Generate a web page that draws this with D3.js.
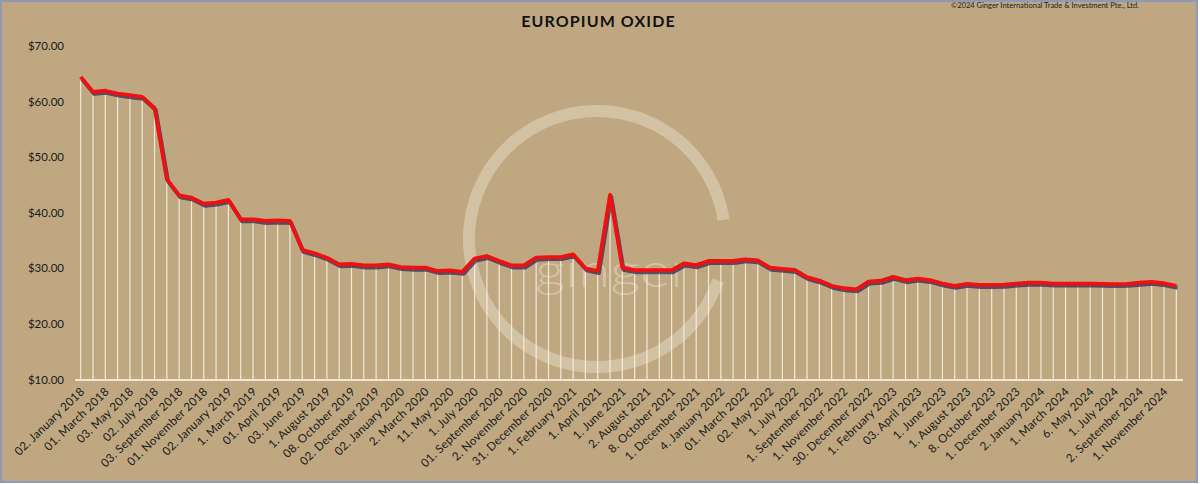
<!DOCTYPE html>
<html>
<head>
<meta charset="utf-8">
<script src="https://cdn.jsdelivr.net/npm/d3@7"></script>
<style>
  html, body { margin: 0; padding: 0; background: #ffffff; }
  svg { display: block; }
  text { font-family: Lato, "Open Sans", "DejaVu Sans", sans-serif; }
</style>
</head>
<body>
<svg id="chart" width="1200" height="484"></svg>
<script>
// ---- data ----
const title = "EUROPIUM OXIDE";
const copyright = "©2024 Ginger International Trade & Investment Pte., Ltd.";

// price observations (USD/kg), in order
const prices = [
  64.4, 61.7, 61.9, 61.4, 61.1, 60.8, 58.8, 46.0, 43.1, 42.7,
  41.6, 41.8, 42.3, 38.8, 38.8, 38.5, 38.6, 38.5, 33.3, 32.7,
  31.9, 30.7, 30.8, 30.5, 30.5, 30.7, 30.2, 30.1, 30.1, 29.5,
  29.6, 29.35, 31.75, 32.2, 31.3, 30.5, 30.5, 31.9, 32.0, 32.0,
  32.5, 30.0, 29.5, 43.2, 30.1, 29.65, 29.65, 29.65, 29.65, 30.85,
  30.55, 31.3, 31.3, 31.3, 31.6, 31.4, 30.1, 29.9, 29.7, 28.4,
  27.8, 26.85, 26.4, 26.2, 27.6, 27.75, 28.45, 27.85, 28.15, 27.85,
  27.25, 26.85, 27.2, 27.0, 27.0, 27.05, 27.25, 27.4, 27.4, 27.25,
  27.25, 27.25, 27.25, 27.2, 27.15, 27.2, 27.4, 27.55, 27.3, 26.85
];

// labels shown on every second observation
const tickLabels = [
  "02. January 2018", "01. March 2018", "03. May 2018", "02. July 2018",
  "03. September 2018", "01. November 2018", "02. January 2019", "1. March 2019",
  "01. April 2019", "03. June 2019", "1. August 2019", "08. October 2019",
  "02. December 2019", "02. January 2020", "2. March 2020", "11. May 2020",
  "1. July 2020", "01. September 2020", "2. November 2020", "31. December 2020",
  "1. February 2021", "1. April 2021", "1. June 2021", "2. August 2021",
  "8. October 2021", "1. December 2021", "4. January 2022", "01. March 2022",
  "02. May 2022", "1. July 2022", "1. September 2022", "1. November 2022",
  "30. December 2022", "1. February 2023", "03. April 2023", "1. June 2023",
  "1. August 2023", "8. October 2023", "1. December 2023", "2. January 2024",
  "1. March 2024", "6. May 2024", "1. July 2024", "2. September 2024",
  "1. November 2024"
];
const labelEvery = 2;

const yTicks = [10, 20, 30, 40, 50, 60, 70];

// ---- drawing ----
const W = 1200, H = 484;
const svg = d3.select("#chart");

svg.append("rect").attr("x", 0).attr("y", 0).attr("width", W).attr("height", H).attr("fill", "#ffffff");
svg.append("rect")
  .attr("x", 1).attr("y", 1).attr("width", 1196).attr("height", 481)
  .attr("fill", "#bfa881").attr("stroke", "#8d9ab8").attr("stroke-width", 2);

const idx = d3.range(prices.length);
const x = d3.scalePoint().domain(idx).range([74.5, 1182.5]).padding(0.5);
const y = d3.scaleLinear().domain([10, 70]).range([379.5, 45.7]);

// watermark logo
const wm = svg.append("g").attr("class", "watermark");
const cx = 597, cy = 239, r = 128;
wm.append("path")
  .attr("transform", `translate(${cx},${cy})`)
  .attr("d", d3.arc().innerRadius(r - 6).outerRadius(r + 6)
    .startAngle(Math.PI / 2 + 0.33).endAngle(Math.PI / 2 - 0.15 + 2 * Math.PI)())
  .attr("fill", "rgba(240,232,215,0.4)");
wm.append("text")
  .attr("x", 535).attr("y", 287)
  .attr("textLength", 156).attr("lengthAdjust", "spacingAndGlyphs")
  .attr("font-family", "'Open Sans', Lato, sans-serif")
  .attr("font-size", 47).attr("font-weight", 300)
  .attr("fill", "rgba(240,232,215,0.4)")
  .text("ginger");

// title & copyright
svg.append("text")
  .attr("x", 598.5).attr("y", 26.5)
  .attr("text-anchor", "middle")
  .attr("font-size", 16).attr("font-weight", 700)
  .attr("letter-spacing", 1.1)
  .attr("fill", "#111")
  .text(title);
svg.append("text")
  .attr("x", 951).attr("y", 8)
  .attr("font-size", 7.6)
  .attr("textLength", 188).attr("lengthAdjust", "spacingAndGlyphs")
  .attr("fill", "#222")
  .text(copyright);

// drop lines
svg.append("g").selectAll("line")
  .data(idx).join("line")
  .attr("x1", i => x(i)).attr("x2", i => x(i))
  .attr("y1", i => y(prices[i])).attr("y2", y(10))
  .attr("stroke", "rgba(250,243,230,0.85)").attr("stroke-width", 1.2);

// y axis
const yAxis = svg.append("g")
  .attr("transform", "translate(64,0)")
  .call(d3.axisLeft(y).tickValues(yTicks).tickFormat(d3.format("$.2f")).tickSize(0).tickPadding(0));
yAxis.select(".domain").remove();
yAxis.selectAll("text")
  .attr("font-family", "Lato, 'Open Sans', sans-serif")
  .attr("font-size", 11.5).attr("fill", "#1a1a1a");

// x axis
const xAxis = svg.append("g")
  .attr("transform", `translate(0,${y(10)})`)
  .call(d3.axisBottom(x)
    .tickValues(idx.filter(i => i % labelEvery === 0))
    .tickFormat(i => tickLabels[i / labelEvery])
    .tickSize(0).tickSizeOuter(0));
xAxis.select(".domain").attr("stroke", "#f3e6cf").attr("stroke-width", 2.2);
xAxis.selectAll(".tick text")
  .attr("font-family", "Lato, 'Open Sans', sans-serif")
  .attr("font-size", 11.6).attr("fill", "#1a1a1a")
  .attr("letter-spacing", 0.25)
  .attr("text-anchor", "end")
  .attr("y", 0).attr("dy", 0)
  .attr("transform", "translate(4,13) rotate(-44)");

// price line with shadow
const line = d3.line().x(i => x(i)).y(i => y(prices[i]));
svg.append("path")
  .datum(idx)
  .attr("d", line)
  .attr("transform", "translate(1.2,2)")
  .attr("fill", "none")
  .attr("stroke", "rgba(50,40,85,0.75)")
  .attr("stroke-width", 4)
  .attr("stroke-linejoin", "round");
svg.append("path")
  .datum(idx)
  .attr("d", line)
  .attr("fill", "none")
  .attr("stroke", "#f01010")
  .attr("stroke-width", 3.8)
  .attr("stroke-linejoin", "round");
</script>
</body>
</html>
